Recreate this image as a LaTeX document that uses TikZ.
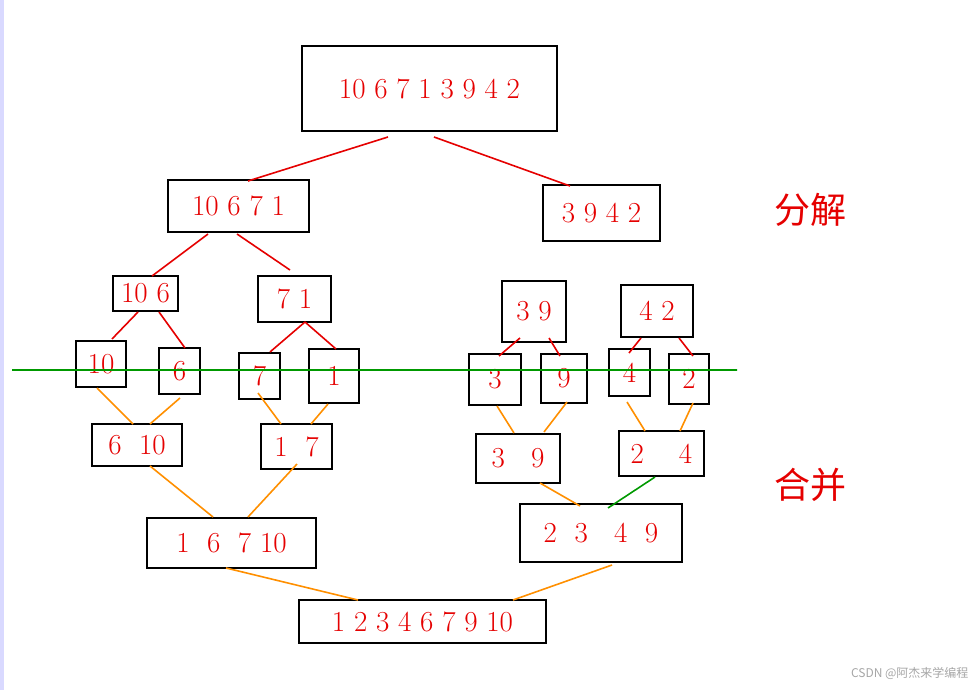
\documentclass[tikz,border=0pt]{standalone}
\usepackage{fontspec}
\newfontfamily\cjk{Noto Sans CJK SC}
\begin{document}
\begin{tikzpicture}[x=1pt,y=-1pt,
  bx/.style={draw=black,line width=2pt},
  num/.style={text=red!90!black,font=\fontsize{29}{29}\selectfont,inner sep=0pt},
  rl/.style={red!90!black,line width=1.6pt},
  ol/.style={orange!90!red!80!yellow,line width=1.6pt},
  gl/.style={green!60!black,line width=1.6pt}]
\useasboundingbox (0,0) rectangle (976,690);
\fill[blue!15] (0,0) rectangle (4,690);
\newcommand\bxn[6]{\draw[bx] (#2,#3) rectangle (#4,#5); \node[num] (#1) at ({(#2+#4)/2},{(#3+#5)/2}) {#6};}
\bxn{t}{302}{46}{557}{131}{10\ 6\ 7\ 1\ 3\ 9\ 4\ 2}
\bxn{l1}{168}{180}{309}{232}{10\ 6\ 7\ 1}
\bxn{r1}{543}{185}{660}{241}{3\ 9\ 4\ 2}
\bxn{a}{113}{276}{178}{311}{10\ 6}
\bxn{b}{258}{276}{331}{322}{7\ 1}
\bxn{c}{502}{281}{566}{342}{3\ 9}
\bxn{d}{621}{285}{693}{337}{4\ 2}
\bxn{e1}{76}{341}{126}{387}{10}
\bxn{e2}{159}{348}{200}{394}{6}
\bxn{e3}{239}{353}{280}{399}{7}
\bxn{e4}{309}{349}{359}{403}{1}
\bxn{e5}{469}{354}{521}{405}{3}
\bxn{e6}{541}{354}{587}{403}{9}
\bxn{e7}{609}{349}{650}{396}{4}
\bxn{e8}{669}{354}{709}{404}{2}
\bxn{m1}{92}{424}{182}{466}{6\ \ 10}
\bxn{m2}{261}{424}{332}{469}{1\ \ 7}
\bxn{m3}{476}{434}{560}{483}{3\ \ \ 9}
\bxn{m4}{619}{431}{704}{476}{2\ \ \ \ 4}
\bxn{n1}{147}{518}{316}{568}{1\ \ 6\ \ 7\ 10}
\bxn{n2}{520}{504}{682}{562}{2\ \ 3\ \ \ 4\ \ 9}
\bxn{f}{299}{600}{546}{643}{1\ 2\ 3\ 4\ 6\ 7\ 9\ 10}
\draw[rl] (388,137)--(248,181) (434,137)--(570,186) (208,234)--(152,276) (237,234)--(290,270)
 (138,312)--(112,339) (159,312)--(185,348) (305,322)--(270,352) (305,322)--(336,349)
 (520,338)--(499,356) (549,338)--(560,356) (641,338)--(629,353) (679,338)--(693,356);
\draw[gl] (12,370)--(737,370) (655,477)--(608,508);
\draw[ol] (97,388)--(133,424) (180,398)--(150,424) (258,393)--(281,424) (328,404)--(311,424)
 (497,406)--(514,433) (567,402)--(544,432) (627,402)--(645,431) (693,403)--(680,431)
 (150,466)--(213,517) (297,464)--(248,517) (540,483)--(580,506) (226,568)--(358,600) (612,565)--(513,600);
\node[text=red!90!black,font=\cjk\fontsize{36}{36}\selectfont] (k1) at (810,210) {分解};
\node[text=red!90!black,font=\cjk\fontsize{36}{36}\selectfont] (k2) at (810,485) {合并};
\node[text=gray!70,font=\cjk\fontsize{12}{12}\selectfont,anchor=east] (w) at (972,673) {CSDN @阿杰来学编程};
\end{tikzpicture}
\end{document}
